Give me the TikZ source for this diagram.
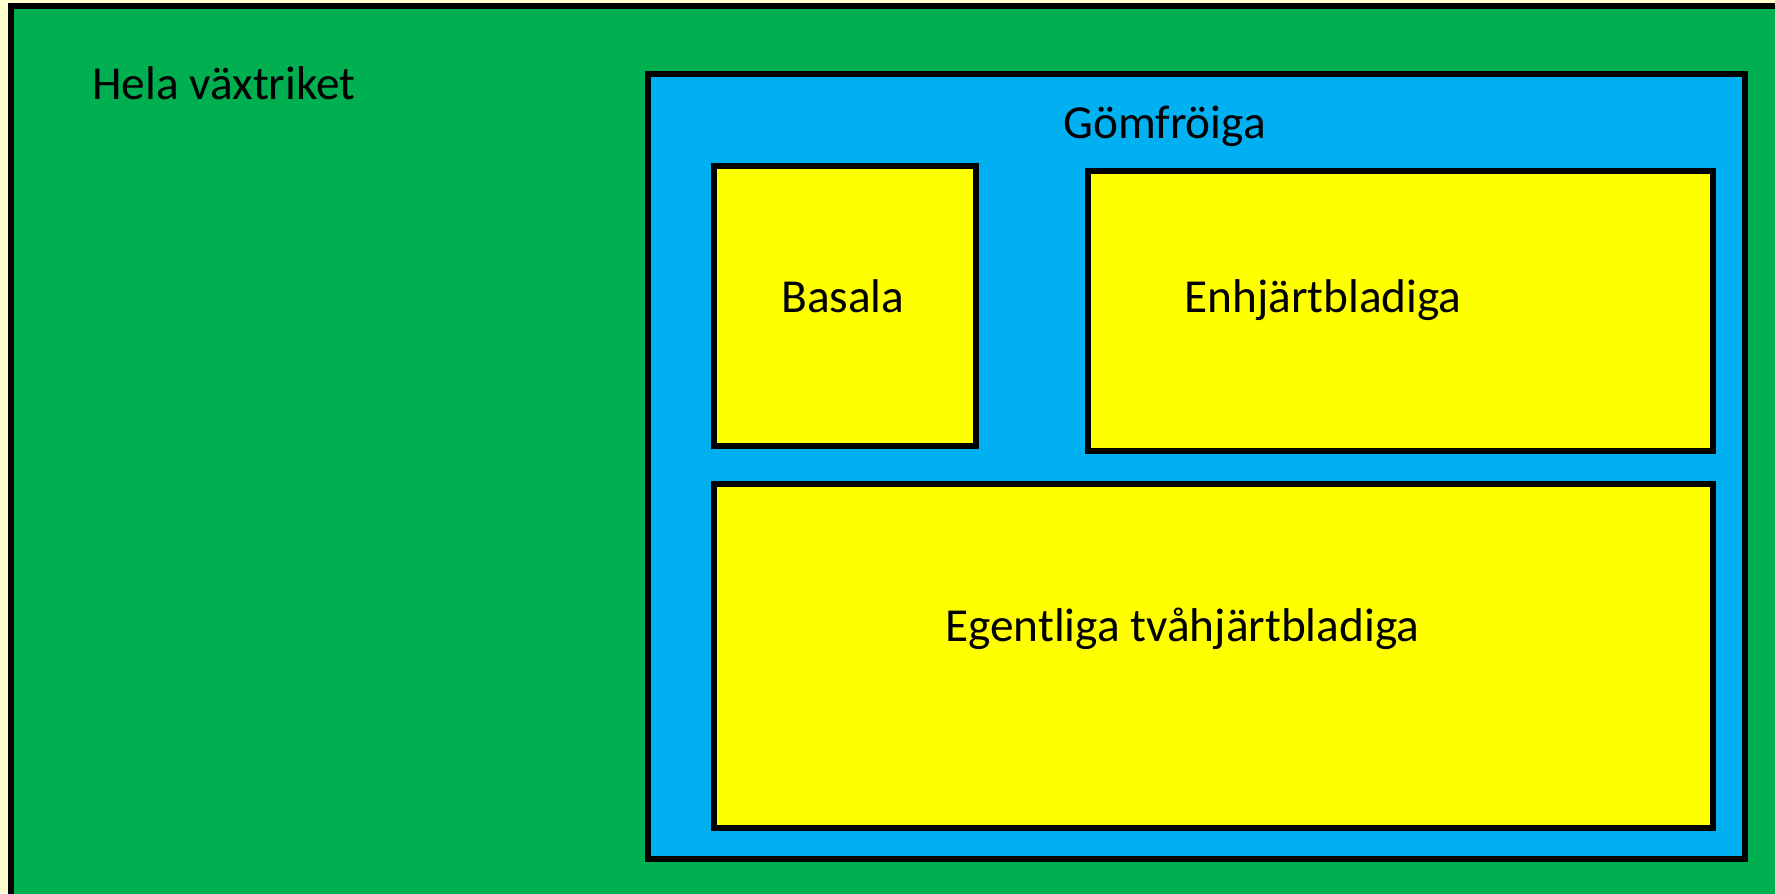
\documentclass[tikz,border=0pt]{standalone}
\usepackage{fontspec}
\setmainfont{Carlito}
\definecolor{bgcream}{HTML}{FFFFCC}
\definecolor{plantgreen}{HTML}{00B050}
\definecolor{angioblue}{HTML}{00B0F0}
\definecolor{cladeyellow}{HTML}{FFFF00}
\begin{document}
\begin{tikzpicture}[x=0.75pt,y=-0.75pt,
  box/.style={draw=black,line width=4.5pt,rectangle,inner sep=0pt,outer sep=0pt,anchor=north west},
  lbl/.style={inner sep=0pt,anchor=base west,font=\fontsize{35.5pt}{40pt}\selectfont,text=black}]
\useasboundingbox (0,0) rectangle (1775,893);
\clip (0,0) rectangle (1775,893);
\fill[bgcream] (0,0) rectangle (1775,893);
\node[box,fill=plantgreen,minimum width=1800*0.75pt,minimum height=920*0.75pt] (riket) at (11,6) {};
\node[box,fill=angioblue,minimum width=1097*0.75pt,minimum height=785*0.75pt] (gom) at (648,74) {};
\node[box,fill=cladeyellow,minimum width=262*0.75pt,minimum height=280*0.75pt] (basala) at (714,166) {};
\node[box,fill=cladeyellow,minimum width=625*0.75pt,minimum height=280*0.75pt] (enhj) at (1088,171) {};
\node[box,fill=cladeyellow,minimum width=999*0.75pt,minimum height=344*0.75pt] (egent) at (714,484) {};
\node[lbl] (trietxt) at (92,99) {Hela växtriket};
\node[lbl] (gomtxt) at (1063,138) {Gömfröiga};
\node[lbl] (bastxt) at (781,312) {Basala};
\node[lbl] (enhtxt) at (1184,312) {Enhjärtbladiga};
\node[lbl] (egtxt) at (945,641) {Egentliga tvåhjärtbladiga};
\end{tikzpicture}
\end{document}
